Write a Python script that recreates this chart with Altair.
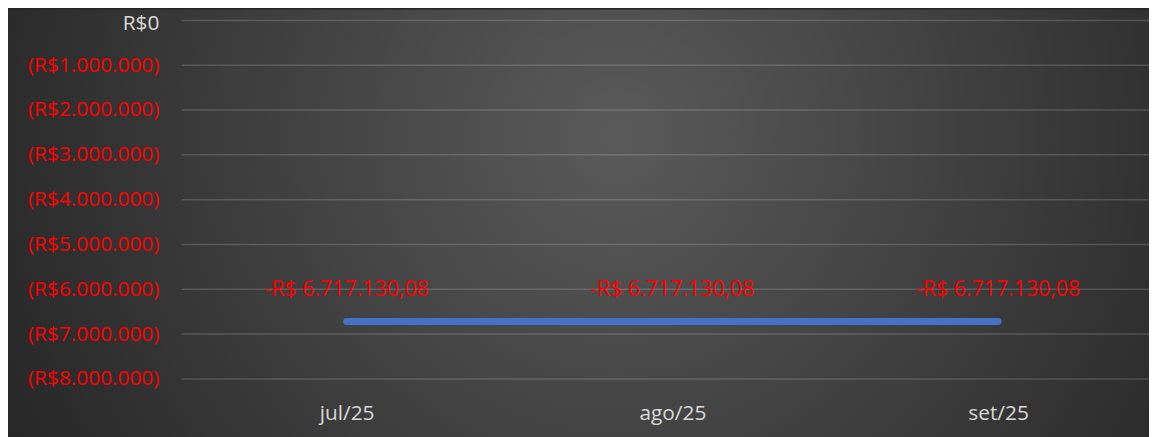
import altair as alt
import pandas as pd

# Data
months = ["jul/25", "ago/25", "set/25"]
values = [-6717130.08, -6717130.08, -6717130.08]
y_ticks = [0, -1000000, -2000000, -3000000, -4000000, -5000000, -6000000, -7000000, -8000000]


def brl(v):
    s = f"{abs(v):,.2f}".replace(",", "#").replace(".", ",").replace("#", ".")
    return ("-R$ " if v < 0 else "R$ ") + s


df = pd.DataFrame({"mes": months, "valor": values, "rotulo": [brl(v) for v in values]})
grid_df = pd.DataFrame({"t": y_ticks})

W, H = 974, 361
PAD = {"left": 175, "top": 11, "right": 0, "bottom": 57}
FONT = "Open Sans"

x_scale = alt.Scale(domain=months, range=[166, 822], padding=0)
y_scale = alt.Scale(domain=[-8000000, 0], nice=False, zero=False)

label_expr = (
    "datum.value == 0 ? 'R$0' : '(R$' + "
    "replace(replace(format(abs(datum.value), ','), ',', '.'), ',', '.') + ')'"
)
y_axis = alt.Axis(values=y_ticks, labelExpr=label_expr, ticks=False, domain=False,
                  grid=False, zindex=1, labelPadding=23, labelFont=FONT, labelFontSize=21,
                  labelOffset=alt.ExprRef("datum.value == 0 ? 3 : 0"),
                  labelColor=alt.ExprRef("datum.value < 0 ? '#ff0000' : '#d9d9d9'"))

bg = alt.Chart(pd.DataFrame({"a": [0]})).mark_rect(
    fill={
        "gradient": "radial",
        "x1": 0.53, "y1": 0.42, "r1": 0,
        "x2": 0.53, "y2": 0.42, "r2": 0.6,
        "stops": [
            {"offset": 0, "color": "#5a5a5a"},
            {"offset": 1, "color": "#262626"},
        ],
    },
    strokeWidth=0,
).encode(
    x=alt.value(-PAD["left"]), x2=alt.value(W + PAD["right"] + 10),
    y=alt.value(-PAD["top"]), y2=alt.value(H + PAD["bottom"] + 10),
)

grid = alt.Chart(grid_df).mark_rule(color="#ffffff", opacity=0.16, strokeWidth=1.5).encode(
    y=alt.Y("t:Q", scale=y_scale, axis=y_axis, title=None),
    x=alt.value(0), x2=alt.value(W + PAD["right"] + 10),
)

line = alt.Chart(df).mark_line(color="#4472C4", strokeWidth=7, strokeCap="round").encode(
    x=alt.X("mes:N", scale=x_scale, sort=months, title=None,
            axis=alt.Axis(labelAngle=0, ticks=False, domain=False, grid=False, zindex=1,
                          labelPadding=35, labelBaseline="middle",
                          labelColor="#d9d9d9", labelFont=FONT, labelFontSize=21)),
    y=alt.Y("valor:Q", scale=y_scale, title=None, axis=y_axis),
)

text = alt.Chart(df).mark_text(
    color="#ff0000", font=FONT, fontSize=21.5, dy=-32, baseline="middle", align="center"
).encode(
    x=alt.X("mes:N", scale=x_scale, sort=months),
    y=alt.Y("valor:Q", scale=y_scale),
    text="rotulo:N",
)

chart = alt.layer(bg, grid, line, text).properties(
    width=W, height=H,
    padding=PAD,
    autosize=alt.AutoSizeParams(type="none"),
    background="#262626",
).configure_view(stroke=None)

chart.save("out.html", embed_options={"renderer": "svg", "actions": False})
